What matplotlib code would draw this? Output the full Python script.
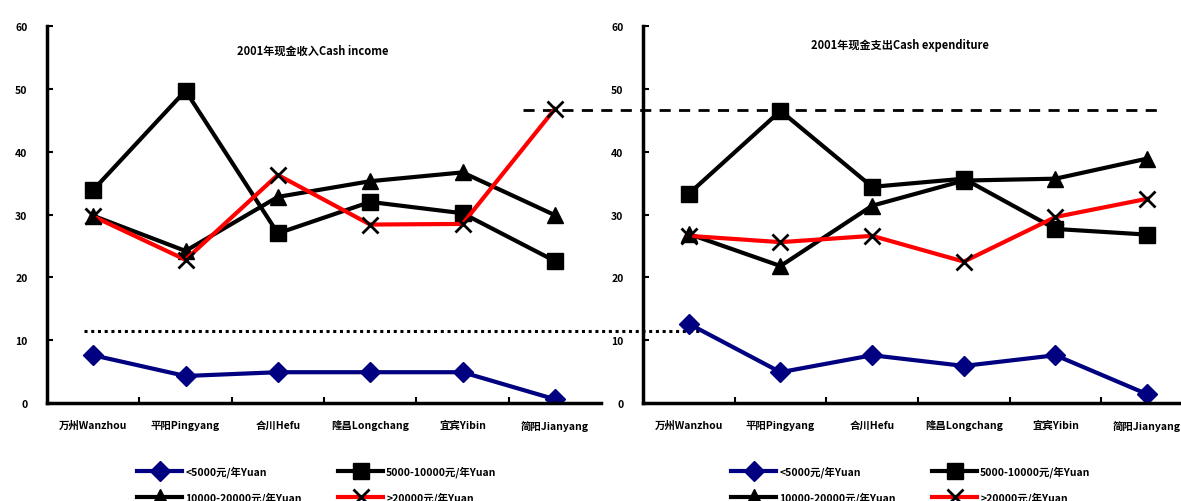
import matplotlib
matplotlib.use('Agg')
import matplotlib.pyplot as plt

plt.rcParams['font.family'] = ['Noto Sans CJK SC', 'DejaVu Sans']

villages = ['万州Wanzhou', '平阳Pingyang', '合川Hefu', '隆昌Longchang', '宜宾Yibin', '简阳Jianyang']
groups = ['<5000元/年Yuan', '5000-10000元/年Yuan', '10000-20000元/年Yuan', '>20000元/年Yuan']

# 2001 cash income per household group
income_lt5000 = [7.6, 4.3, 4.9, 4.9, 4.9, 0.6]
income_5_10k = [33.9, 49.7, 27.0, 32.0, 30.2, 22.6]
income_10_20k = [29.8, 24.2, 32.8, 35.3, 36.7, 29.9]
income_gt20k = [29.7, 22.8, 36.3, 28.4, 28.5, 46.8]

# 2001 cash expenditure per household group
expend_lt5000 = [12.6, 4.9, 7.6, 5.9, 7.6, 1.4]
expend_5_10k = [33.3, 46.5, 34.4, 35.7, 27.7, 26.8]
expend_10_20k = [26.9, 21.8, 31.4, 35.4, 35.7, 38.9]
expend_gt20k = [26.6, 25.6, 26.6, 22.5, 29.6, 32.5]

dashed_level = 46.7
dotted_level = 11.5

styles = [
    dict(color='#000080', marker='D', markersize=10),
    dict(color='black', marker='s', markersize=12),
    dict(color='black', marker='^', markersize=12),
    dict(color='#ff0000', marker='x', markersize=11, markeredgecolor='black', markeredgewidth=2),
]

fig = plt.figure(figsize=(11.81, 5.02), dpi=100)
ax1 = fig.add_axes([47 / 1181, 98 / 502, 554 / 1181, 377 / 502])
ax2 = fig.add_axes([643 / 1181, 98 / 502, 550 / 1181, 377 / 502])

x = list(range(len(villages)))


def draw_panel(ax, series, title, title_xy):
    ax.patch.set_alpha(0)
    handles = []
    for vals, st in zip(series, styles):
        h, = ax.plot(x, vals, linewidth=3, **st)
        handles.append(h)
    ax.set_xlim(-0.5, len(villages) - 0.5)
    ax.set_ylim(0, 60)
    ax.set_yticks(range(0, 61, 10))
    ax.set_xticks([i + 0.5 for i in x[:-1]])
    ax.set_xticklabels([])
    ax.set_xticks(x, minor=True)
    ax.set_xticklabels(villages, minor=True, fontsize=7.5, fontweight='bold')
    ax.tick_params(axis='x', which='minor', length=0, pad=12)
    ax.tick_params(axis='x', which='major', direction='in', length=4, width=1.5)
    ax.tick_params(axis='y', direction='in', length=4, width=1.5, labelsize=7.5, pad=14)
    for lab in ax.get_yticklabels():
        lab.set_fontweight('bold')
    for side in ['top', 'right']:
        ax.spines[side].set_visible(False)
    for side in ['left', 'bottom']:
        ax.spines[side].set_linewidth(2.5)
    ax.text(title_xy[0], title_xy[1], title, transform=ax.transAxes, ha='center', va='center',
            fontsize=8, fontweight='bold')
    return handles


h1 = draw_panel(ax1, [income_lt5000, income_5_10k, income_10_20k, income_gt20k],
                '2001年现金收入Cash income', (0.48, 0.935))
h2 = draw_panel(ax2, [expend_lt5000, expend_5_10k, expend_10_20k, expend_gt20k],
                '2001年现金支出Cash expenditure', (0.467, 0.95))

# reference levels drawn across both panels
ax1.plot([-0.1, 6.6], [dotted_level, dotted_level], color='black', linestyle=(0, (1, 1.2)),
         linewidth=2.2, clip_on=False, zorder=5)
ax1.plot([4.65, 11.6], [dashed_level, dashed_level], color='black', linestyle=(0, (4, 3)),
         linewidth=2, clip_on=False, zorder=1)

for handles, x0 in [(h1, 128), (h2, 722)]:
    order = [handles[0], handles[2], handles[1], handles[3]]
    labels = [groups[0], groups[2], groups[1], groups[3]]
    fig.legend(order, labels, loc='upper left', bbox_to_anchor=(x0 / 1181, 1 - 457 / 502),
               ncol=2, frameon=False, handlelength=4.3, handletextpad=0.3,
               columnspacing=3.5, labelspacing=1.4,
               prop=dict(size=7.5, weight='bold'))

fig.savefig('out.png', dpi=100)
